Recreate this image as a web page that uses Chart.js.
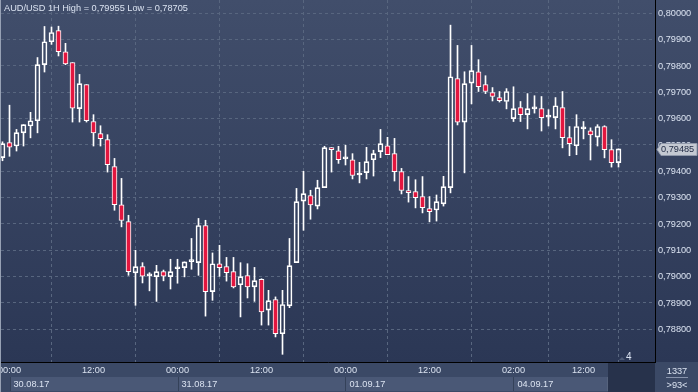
<!DOCTYPE html>
<html>
<head>
<meta charset="utf-8">
<script src="https://cdn.jsdelivr.net/npm/chart.js@4.4.1/dist/chart.umd.min.js"></script>
<style>
html, body { margin: 0; padding: 0; background: #2c3856; overflow: hidden; }
canvas { display: block; }
</style>
</head>
<body>
<canvas id="chart" width="698" height="392"></canvas>
<script>
// AUD/USD hourly bars, first entry = 29.08.17 23:00, then 30.08.17 00:00 ...
const opens = [
	0.79452, 0.79509, 0.79496, 0.79546, 0.79572, 0.79592, 0.79805, 0.79892, 0.79934, 0.79854,
	0.79813, 0.79638, 0.79729, 0.79589, 0.79543, 0.79520, 0.79418, 0.79273, 0.79209, 0.79014,
	0.79038, 0.79003, 0.79000, 0.79019, 0.79000, 0.79030, 0.79034, 0.79057, 0.79053, 0.79194,
	0.78943, 0.79049, 0.79038, 0.79019, 0.78969, 0.79004, 0.78961, 0.78990, 0.78873, 0.78913,
	0.78783, 0.78889, 0.79053, 0.79287, 0.79308, 0.79268, 0.79338, 0.79490, 0.79478, 0.79447,
	0.79444, 0.79386, 0.79395, 0.79444, 0.79475, 0.79497, 0.79467, 0.79399, 0.79327, 0.79323,
	0.79304, 0.79258, 0.79253, 0.79276, 0.79338, 0.79752, 0.79587, 0.79735, 0.79778, 0.79729,
	0.79699, 0.79680, 0.79665, 0.79600, 0.79642, 0.79615, 0.79637, 0.79638, 0.79606, 0.79604,
	0.79642, 0.79528, 0.79497, 0.79561, 0.79554, 0.79530, 0.79570, 0.79482, 0.79433
];
const highs = [
	0.79512, 0.79651, 0.79559, 0.79577, 0.79624, 0.79832, 0.79950, 0.79948, 0.79951, 0.79886,
	0.79813, 0.79768, 0.79729, 0.79615, 0.79573, 0.79539, 0.79449, 0.79373, 0.79233, 0.79100,
	0.79053, 0.79015, 0.79043, 0.79025, 0.79066, 0.79066, 0.79056, 0.79145, 0.79221, 0.79214,
	0.79090, 0.79119, 0.79073, 0.79073, 0.79053, 0.79049, 0.79035, 0.78992, 0.78948, 0.78923,
	0.78948, 0.79145, 0.79335, 0.79400, 0.79328, 0.79366, 0.79495, 0.79490, 0.79495, 0.79499,
	0.79467, 0.79434, 0.79491, 0.79480, 0.79559, 0.79529, 0.79525, 0.79411, 0.79380, 0.79368,
	0.79380, 0.79304, 0.79310, 0.79381, 0.79955, 0.79878, 0.79778, 0.79878, 0.79824, 0.79763,
	0.79718, 0.79703, 0.79714, 0.79721, 0.79665, 0.79695, 0.79687, 0.79684, 0.79634, 0.79680,
	0.79703, 0.79570, 0.79615, 0.79589, 0.79565, 0.79577, 0.79573, 0.79520, 0.79485
];
const lows = [
	0.79440, 0.79457, 0.79477, 0.79496, 0.79527, 0.79546, 0.79777, 0.79882, 0.79838, 0.79805,
	0.79587, 0.79587, 0.79587, 0.79496, 0.79496, 0.79397, 0.79252, 0.79189, 0.79005, 0.78891,
	0.78976, 0.78946, 0.78906, 0.78984, 0.78953, 0.78975, 0.78999, 0.79028, 0.79005, 0.78850,
	0.78910, 0.79001, 0.78983, 0.78957, 0.78847, 0.78919, 0.78906, 0.78816, 0.78816, 0.78771,
	0.78705, 0.78882, 0.79053, 0.79176, 0.79218, 0.79257, 0.79338, 0.79397, 0.79430, 0.79424,
	0.79371, 0.79356, 0.79371, 0.79382, 0.79452, 0.79463, 0.79363, 0.79314, 0.79283, 0.79261,
	0.79242, 0.79208, 0.79211, 0.79268, 0.79318, 0.79576, 0.79394, 0.79656, 0.79703, 0.79695,
	0.79667, 0.79663, 0.79637, 0.79589, 0.79589, 0.79561, 0.79621, 0.79553, 0.79572, 0.79561,
	0.79489, 0.79459, 0.79463, 0.79523, 0.79443, 0.79496, 0.79451, 0.79416, 0.79416
];
const closes = [
	0.79505, 0.79492, 0.79547, 0.79577, 0.79592, 0.79805, 0.79892, 0.79927, 0.79854, 0.79808,
	0.79640, 0.79733, 0.79592, 0.79546, 0.79524, 0.79425, 0.79273, 0.79213, 0.79019, 0.79038,
	0.79002, 0.79004, 0.79019, 0.79002, 0.79019, 0.79031, 0.79056, 0.79058, 0.79194, 0.78943,
	0.79049, 0.79034, 0.79015, 0.78961, 0.79000, 0.78961, 0.78985, 0.78866, 0.78909, 0.78783,
	0.78894, 0.79042, 0.79285, 0.79315, 0.79272, 0.79338, 0.79490, 0.79482, 0.79444, 0.79448,
	0.79384, 0.79387, 0.79437, 0.79467, 0.79505, 0.79463, 0.79399, 0.79327, 0.79319, 0.79300,
	0.79262, 0.79247, 0.79285, 0.79342, 0.79759, 0.79587, 0.79733, 0.79782, 0.79721, 0.79703,
	0.79684, 0.79668, 0.79703, 0.79638, 0.79615, 0.79638, 0.79638, 0.79604, 0.79607, 0.79649,
	0.79528, 0.79505, 0.79570, 0.79562, 0.79538, 0.79570, 0.79482, 0.79433, 0.79485
];

const timeTicks = [0, 12, 24, 36, 48, 60, 72, 82];
const timeLabels = ['00:00', '12:00', '00:00', '12:00', '00:00', '12:00', '02:00', '12:00'];
const dayStarts = [0, 24, 48, 72, 85.5];
const dayLabels = ['30.08.17', '31.08.17', '01.09.17', '04.09.17'];
const priceTicks = [0.788, 0.789, 0.790, 0.791, 0.792, 0.793, 0.794, 0.795, 0.796, 0.797, 0.798, 0.799, 0.800];
const titleText = 'AUD/USD 1H High = 0,79955 Low = 0,78705';

// bar slot of each candle, starting one hour before 30.08 00:00
const slots = opens.map((o, i) => i - 1);

const FONT = 'Liberation Sans, Arial, sans-serif';
const FSIZE = 9.2;
const TEXT = '#dbe3f1';
const GRID = '#58667f';
const RED = '#e3163f';

const fmt = v => v.toFixed(5).replace('.', ',');

const bodies = slots.map((x, i) => ({x: x, y: [opens[i], closes[i]]}));
const upperWicks = slots.map((x, i) => ({x: x, y: [Math.max(opens[i], closes[i]), highs[i]]}));
const lowerWicks = slots.map((x, i) => ({x: x, y: [lows[i], Math.min(opens[i], closes[i])]}));
const bodyColors = opens.map((o, i) => closes[i] >= o ? 'rgba(0,0,0,0)' : RED);

const backdrop = {
	id: 'backdrop',
	beforeDraw(chart) {
		const ctx = chart.ctx;
		const area = chart.chartArea;
		const xs = chart.scales.x;
		ctx.save();
		const grad = ctx.createLinearGradient(0, 0, 0, area.bottom);
		grad.addColorStop(0, '#414e6b');
		grad.addColorStop(1, '#2b3755');
		ctx.fillStyle = grad;
		ctx.fillRect(0, 0, chart.width, area.bottom);

		// time row + date row
		ctx.fillStyle = '#3b4966';
		ctx.fillRect(0, area.bottom, chart.width, chart.height - area.bottom);
		for (let i = 0; i < dayLabels.length; i++) {
			const x0 = Math.round(xs.getPixelForValue(dayStarts[i]));
			const x1 = Math.round(xs.getPixelForValue(dayStarts[i + 1]));
			ctx.fillStyle = '#4a5876';
			ctx.fillRect(x0, 377, x1 - x0, 14);
			ctx.fillStyle = '#344159';
			ctx.fillRect(x0, 377, 1, 14);
		}
		const xEnd = Math.round(xs.getPixelForValue(dayStarts[dayStarts.length - 1]));
		ctx.fillStyle = '#27324b';
		ctx.fillRect(xEnd, area.bottom + 1, area.right - xEnd, chart.height - area.bottom - 1);
		ctx.fillStyle = '#56637d';
		ctx.fillRect(xEnd - 1, 377, 1, 14);
		ctx.restore();
	},
	afterDraw(chart) {
		const ctx = chart.ctx;
		const area = chart.chartArea;
		const xs = chart.scales.x;
		const ys = chart.scales.y;
		ctx.save();
		ctx.font = FSIZE + 'px ' + FONT;
		ctx.fillStyle = TEXT;
		ctx.textBaseline = 'middle';

		// title
		ctx.textAlign = 'left';
		ctx.fillText(titleText, 4, 8);

		// day labels
		for (let i = 0; i < dayLabels.length; i++) {
			ctx.fillText(dayLabels[i], xs.getPixelForValue(dayStarts[i]) + 4, 384);
		}

		// marker near bottom right
		ctx.fillStyle = '#4e5b76';
		ctx.beginPath();
		ctx.moveTo(619, 360);
		ctx.lineTo(622, 357);
		ctx.lineTo(625, 360);
		ctx.fill();
		ctx.fillStyle = TEXT;
		ctx.font = '10px ' + FONT;
		ctx.fillText('4', 626, 357);
		ctx.font = FSIZE + 'px ' + FONT;

		// corner counters
		ctx.textAlign = 'center';
		ctx.fillText('1337', 677, 371);
		ctx.fillText('>93<', 677, 385);
		ctx.fillStyle = '#8793ab';
		ctx.fillRect(666, 377, 22, 1);

		// last price tag
		const last = closes[closes.length - 1];
		const py = Math.round(ys.getPixelForValue(last)) + 0.5;
		ctx.beginPath();
		ctx.moveTo(area.right + 2, py);
		ctx.lineTo(area.right + 6, py - 6);
		ctx.lineTo(chart.width - 1, py - 6);
		ctx.lineTo(chart.width - 1, py + 6);
		ctx.lineTo(area.right + 6, py + 6);
		ctx.closePath();
		ctx.fillStyle = '#c4c9d2';
		ctx.fill();
		ctx.strokeStyle = '#8f98aa';
		ctx.lineWidth = 1;
		ctx.stroke();
		ctx.fillStyle = '#1d2842';
		ctx.textAlign = 'left';
		ctx.fillText(fmt(last), area.right + 6, py);

		// left frame line
		ctx.fillStyle = '#97a1b4';
		ctx.fillRect(0, 0, 1, chart.height);
		ctx.restore();
	}
};

new Chart(document.getElementById('chart'), {
	type: 'bar',
	data: {
		datasets: [
			{
				label: 'body',
				data: bodies,
				backgroundColor: bodyColors,
				borderColor: '#ffffff',
				borderWidth: 1,
				borderSkipped: false,
				barThickness: 5,
				minBarLength: 2,
				grouped: false,
				clip: 0,
				order: 1
			},
			{
				label: 'upper',
				data: upperWicks,
				backgroundColor: '#ffffff',
				barThickness: 1,
				grouped: false,
				clip: 0,
				order: 2
			},
			{
				label: 'lower',
				data: lowerWicks,
				backgroundColor: '#ffffff',
				barThickness: 1,
				grouped: false,
				clip: 0,
				order: 3
			}
		]
	},
	options: {
		responsive: false,
		animation: false,
		events: [],
		layout: {padding: {left: 1, top: 0, right: 0, bottom: 0}},
		plugins: {
			legend: {display: false},
			tooltip: {enabled: false}
		},
		scales: {
			x: {
				type: 'linear',
				min: -1.2143,
				max: 92.2143,
				offset: false,
				afterBuildTicks: scale => {
					scale.ticks = timeTicks.map(v => ({value: v}));
				},
				afterFit: scale => {
					scale.height = 30;
					scale.paddingLeft = 0;
					scale.paddingRight = 0;
				},
				ticks: {
					autoSkip: false,
					maxRotation: 0,
					minRotation: 0,
					padding: 3,
					color: TEXT,
					font: {family: FONT, size: FSIZE},
					callback: value => timeLabels[timeTicks.indexOf(value)]
				},
				grid: {color: GRID, drawTicks: false},
				border: {color: '#000000', width: 1, dash: [3, 3]}
			},
			y: {
				position: 'right',
				min: 0.786758,
				max: 0.800505,
				afterBuildTicks: scale => {
					scale.ticks = priceTicks.map(v => ({value: v}));
				},
				afterFit: scale => {
					scale.width = 43;
					scale.paddingTop = 0;
					scale.paddingBottom = 0;
				},
				ticks: {
					padding: 3,
					color: TEXT,
					font: {family: FONT, size: FSIZE},
					callback: value => fmt(value)
				},
				grid: {color: GRID, drawTicks: false},
				border: {color: '#000000', width: 1, dash: [3, 3]}
			}
		}
	},
	plugins: [backdrop]
});
</script>
</body>
</html>
